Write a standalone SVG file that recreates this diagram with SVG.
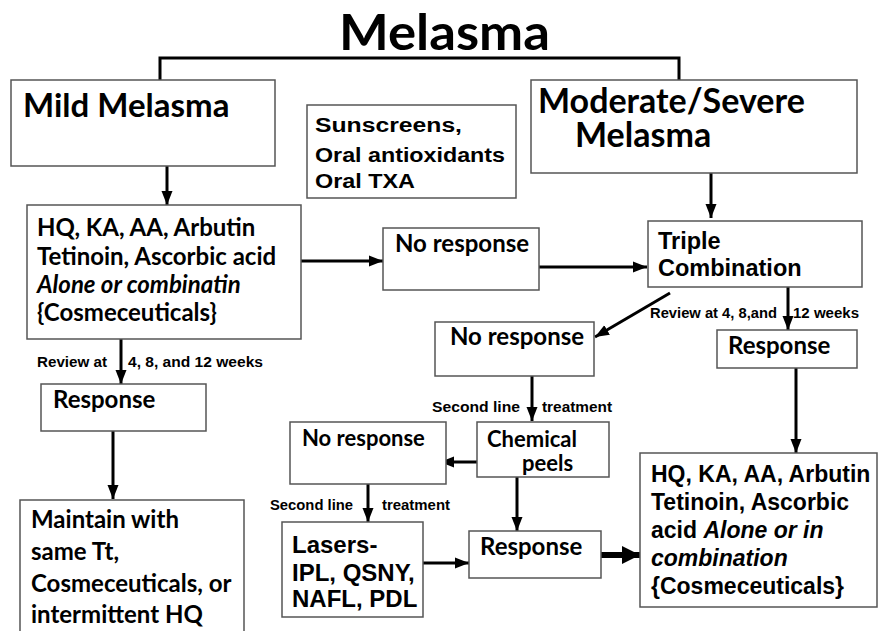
<svg xmlns="http://www.w3.org/2000/svg" width="878" height="631" viewBox="0 0 878 631">
<style>
.box{fill:#fff;stroke:#555;stroke-width:1.5}
.c{font-family:Lato,"Open Sans","Liberation Sans",sans-serif;font-weight:700;fill:#000}
.a{font-family:"Liberation Sans",Arial,sans-serif;font-weight:700;fill:#000}
.lbl{font-family:"Liberation Sans",Arial,sans-serif;font-weight:700;font-size:14px;fill:#000}
.ln{stroke:#000;stroke-width:3;fill:none}
.arr{stroke:#000;stroke-width:3;fill:none;marker-end:url(#ah)}
</style>
<defs>
<marker id="ah" markerUnits="userSpaceOnUse" markerWidth="14" markerHeight="14" viewBox="0 0 14 14" refX="14" refY="7" orient="auto">
<path d="M0,1.5 L14,7 L0,12.5 Z" fill="#000"/>
</marker>
<marker id="ahb" markerUnits="userSpaceOnUse" markerWidth="18" markerHeight="18" viewBox="0 0 18 18" refX="18" refY="9" orient="auto">
<path d="M0,0 L18,9 L0,18 Z" fill="#000"/>
</marker>
</defs>
<rect width="878" height="631" fill="#fff"/>

<g id="title"><text class="c" x="339" y="50" font-size="50" textLength="211" lengthAdjust="spacingAndGlyphs">Melasma</text></g>

<g id="connectors">
<path class="ln" d="M160,80 V58 H679 V80"/>
<path class="arr" d="M167,166 V205"/>
<path class="arr" d="M711,173 V218"/>
<path class="arr" d="M301,261 H383"/>
<path class="arr" d="M532,267 H647"/>
<path class="arr" d="M670,293 L595,337"/>
<path class="arr" d="M788,285 V330"/>
<path class="arr" d="M532,376 V421"/>
<path class="arr" d="M796,368 V453"/>
<path class="arr" d="M477,462 H440"/>
<path class="arr" d="M368,484 V522"/>
<path class="arr" d="M423,563 H469"/>
<path class="arr" d="M517,477 V531"/>
<path d="M601,555 H640" stroke="#000" stroke-width="6" fill="none" marker-end="url(#ahb)"/>
<path class="arr" d="M121,339 V384"/>
<path class="arr" d="M113,431 V499"/>
<text class="lbl" x="650" y="318" textLength="127" lengthAdjust="spacingAndGlyphs">Review at 4, 8,and</text>
<text class="lbl" x="793" y="318" textLength="66" lengthAdjust="spacingAndGlyphs">12 weeks</text>
<text class="lbl" x="37" y="367" textLength="70" lengthAdjust="spacingAndGlyphs">Review at</text>
<text class="lbl" x="128" y="367" textLength="135" lengthAdjust="spacingAndGlyphs">4, 8, and 12 weeks</text>
<text class="lbl" x="432" y="412" textLength="88" lengthAdjust="spacingAndGlyphs">Second line</text>
<text class="lbl" x="542" y="412" textLength="70" lengthAdjust="spacingAndGlyphs">treatment</text>
<text class="lbl" x="270" y="510" textLength="83" lengthAdjust="spacingAndGlyphs">Second line</text>
<text class="lbl" x="382" y="510" textLength="68" lengthAdjust="spacingAndGlyphs">treatment</text>
</g>

<g id="mild">
<rect class="box" x="11" y="80" width="264" height="86"/>
<text class="c" x="23" y="117" font-size="33">Mild Melasma</text>
</g>

<g id="sun">
<rect class="box" x="307" y="105" width="209" height="93"/>
<text class="a" x="315" y="132" font-size="20" textLength="147" lengthAdjust="spacingAndGlyphs">Sunscreens,</text>
<text class="a" x="315" y="162" font-size="20" textLength="190" lengthAdjust="spacingAndGlyphs">Oral antioxidants</text>
<text class="a" x="315" y="188" font-size="20" textLength="100" lengthAdjust="spacingAndGlyphs">Oral TXA</text>
</g>

<g id="moderate">
<rect class="box" x="531" y="80" width="326" height="93"/>
<text class="c" x="538" y="113" font-size="34">Moderate/Severe</text>
<text class="c" x="575" y="147" font-size="34">Melasma</text>
</g>

<g id="hq-left">
<rect class="box" x="27" y="205" width="274" height="134"/>
<text class="c" x="37" y="236" font-size="24">HQ, KA, AA, Arbutin</text>
<text class="c" x="37" y="265" font-size="24">Tetinoin, Ascorbic acid</text>
<text class="c" x="37" y="293" font-size="24" font-style="italic">Alone or combinatin</text>
<text class="c" x="37" y="321" font-size="24">{Cosmeceuticals}</text>
</g>

<g id="noresp1">
<rect class="box" x="383" y="228" width="156" height="62"/>
<text class="c" x="395" y="252" font-size="24">No response</text>
</g>

<g id="triple">
<rect class="box" x="648" y="221" width="214" height="66"/>
<text class="a" x="658" y="249" font-size="23.5">Triple</text>
<text class="a" x="658" y="276" font-size="23.5">Combination</text>
</g>

<g id="noresp2">
<rect class="box" x="435" y="322" width="159" height="54"/>
<text class="c" x="450" y="345" font-size="24">No response</text>
</g>

<g id="resp-right">
<rect class="box" x="717" y="330" width="140" height="38"/>
<text class="c" x="728" y="354" font-size="24">Response</text>
</g>

<g id="resp-left">
<rect class="box" x="41" y="384" width="165" height="47"/>
<text class="c" x="53" y="408" font-size="24">Response</text>
</g>

<g id="chem">
<rect class="box" x="477" y="422" width="132" height="55"/>
<text class="c" x="487" y="447" font-size="22">Chemical</text>
<text class="c" x="522" y="471" font-size="22">peels</text>
</g>

<g id="noresp3">
<rect class="box" x="290" y="422" width="156" height="62"/>
<text class="c" x="302" y="446" font-size="22">No response</text>
</g>

<g id="maintain">
<rect class="box" x="20" y="500" width="224" height="140"/>
<text class="c" x="31" y="528" font-size="24">Maintain with</text>
<text class="c" x="31" y="560" font-size="24">same Tt,</text>
<text class="c" x="31" y="592" font-size="24">Cosmeceuticals, or</text>
<text class="c" x="31" y="623" font-size="24">intermittent HQ</text>
</g>

<g id="lasers">
<rect class="box" x="282" y="522" width="141" height="95"/>
<text class="a" x="292" y="553" font-size="24">Lasers-</text>
<text class="a" x="292" y="581" font-size="24">IPL, QSNY,</text>
<text class="a" x="292" y="607" font-size="24">NAFL, PDL</text>
</g>

<g id="resp-bottom">
<rect class="box" x="469" y="531" width="132" height="47"/>
<text class="c" x="480" y="555" font-size="24">Response</text>
</g>

<g id="hq-right">
<rect class="box" x="640" y="453" width="237" height="154"/>
<text class="a" x="651" y="482" font-size="23">HQ, KA, AA, Arbutin</text>
<text class="a" x="651" y="510" font-size="23">Tetinoin, Ascorbic</text>
<text class="a" x="651" y="538" font-size="23">acid <tspan font-style="italic">Alone or in</tspan></text>
<text class="a" x="651" y="566" font-size="23" font-style="italic">combination</text>
<text class="a" x="651" y="594" font-size="23">{Cosmeceuticals}</text>
</g>
</svg>
